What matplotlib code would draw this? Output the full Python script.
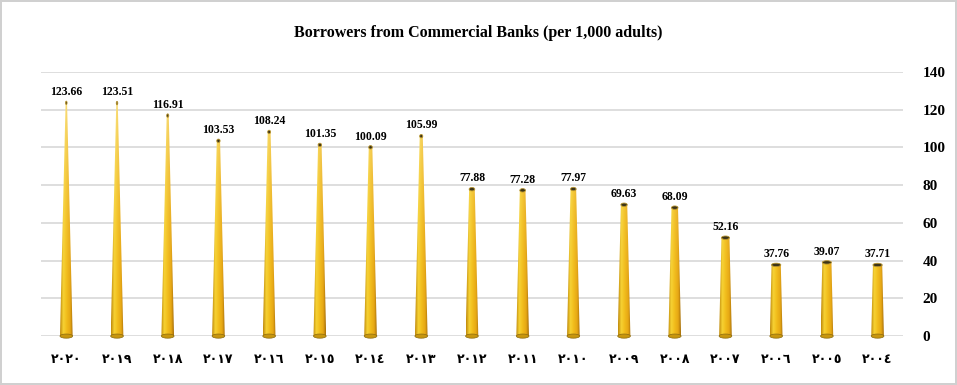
import numpy as np
import matplotlib.pyplot as plt
from matplotlib.patches import Polygon, Ellipse
from matplotlib.colors import LinearSegmentedColormap

years = ["٢٠٢٠", "٢٠١٩", "٢٠١٨", "٢٠١٧", "٢٠١٦", "٢٠١٥", "٢٠١٤", "٢٠١٣", "٢٠١٢",
         "٢٠١١", "٢٠١٠", "٢٠٠٩", "٢٠٠٨", "٢٠٠٧", "٢٠٠٦", "٢٠٠٥", "٢٠٠٤"]
values = [123.66, 123.51, 116.91, 103.53, 108.24, 101.35, 100.09, 105.99, 77.88,
          77.28, 77.97, 69.63, 68.09, 52.16, 37.76, 39.07, 37.71]
yticks = [0, 20, 40, 60, 80, 100, 120, 140]

serif = "Liberation Serif"

fig = plt.figure(figsize=(9.57, 3.85), dpi=100)
fig.patch.set_edgecolor("#d0d0d0")
fig.patch.set_linewidth(1.5)
ax = fig.add_axes([0.0428, 0.127, 0.9007, 0.686])
ax.set_xlim(-0.5, len(values) - 0.5)
ax.set_ylim(0, 140)

# horizontal shading across the cone
shade = LinearSegmentedColormap.from_list(
    "cone", [(0, "#C08A0C"), (0.25, "#F6D234"), (0.5, "#F2BE1C"),
             (0.8, "#E6A614"), (1, "#A8700A")])
nx, ny = 40, 60
prof = shade(np.linspace(0, 1, nx))[:, :3]

w0 = 0.25
apex = 140.0
for i, v in enumerate(values):
    wt = w0 * (1 - v / apex)
    verts = [(i - w0 / 2, 0), (i + w0 / 2, 0), (i + wt / 2, v), (i - wt / 2, v)]
    poly = Polygon(verts, closed=True, facecolor="none", edgecolor="none")
    ax.add_patch(poly)
    # vertical fade towards pale near the apex
    yy = np.linspace(0, v, ny)[:, None, None]
    fade = 0.65 * (yy / apex) ** 2.5
    img = prof[None, :, :] * (1 - fade) + fade * np.array([1.0, 0.98, 0.85])
    im = ax.imshow(img, extent=[i - w0 / 2, i + w0 / 2, 0, v], origin="lower",
                   aspect="auto", interpolation="bilinear", zorder=2)
    im.set_clip_path(poly)
    # base and top caps
    ax.add_patch(Ellipse((i, 0), w0, 2.2, facecolor="#C8960E", edgecolor="#8a6a10",
                         lw=0.5, zorder=2.5, clip_on=False))
    ax.add_patch(Ellipse((i, v), max(wt, 0.03), 1.8, facecolor="#3c3418",
                         edgecolor="#B89530", lw=0.6, zorder=3))
    ax.text(i, v + 2.5, f"{v:.2f}", ha="center", va="bottom", fontsize=8.5,
            fontweight="bold", family=serif, zorder=4)

ax.set_yticks(yticks)
ax.yaxis.tick_right()
ax.tick_params(axis="y", length=0, pad=14, labelsize=11)
for lab in ax.get_yticklabels():
    lab.set_fontfamily(serif)
    lab.set_fontweight("bold")
ax.grid(axis="y", color="#d8d8d8", lw=1.2, zorder=0)
ax.set_xticks(range(len(values)))
ax.set_xticklabels(years, fontsize=9, fontweight="bold", family="DejaVu Sans")
ax.tick_params(axis="x", length=0, pad=12)
for s in ax.spines.values():
    s.set_visible(False)

fig.text(0.5, 0.915, "Borrowers from Commercial Banks (per 1,000 adults)",
         ha="center", va="center", fontsize=11.5, fontweight="bold", family=serif)

fig.savefig("out.png", dpi=100, edgecolor=fig.get_edgecolor())
